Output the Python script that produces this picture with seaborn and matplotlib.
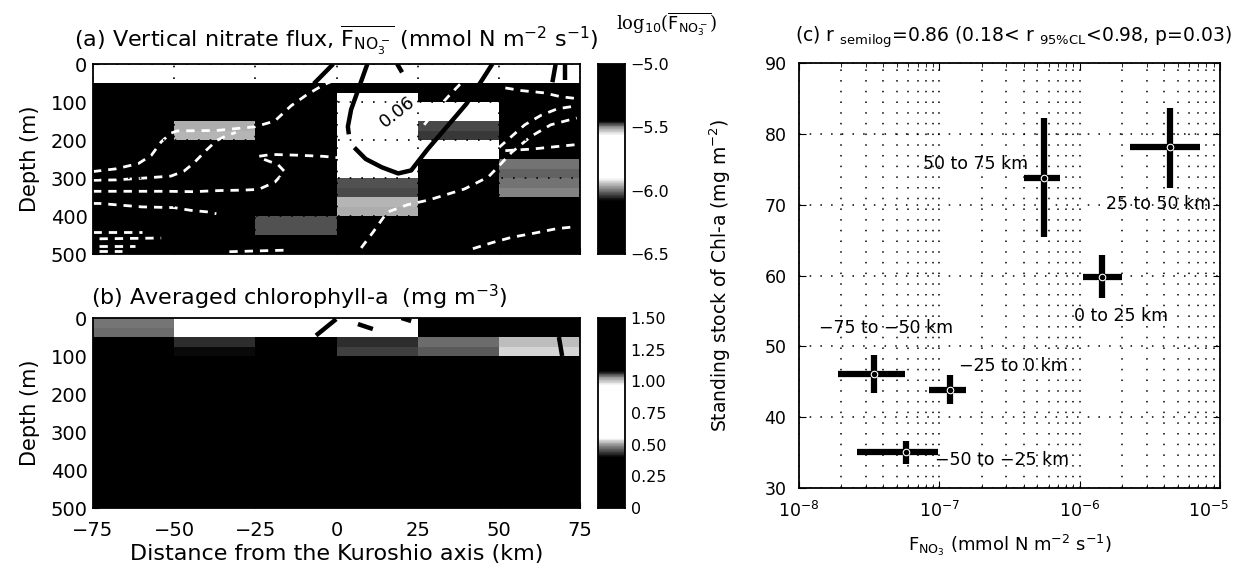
# =========================================
# NITRATE FLUX / CHL-A SECTION + SCATTER
# =========================================

import numpy as np
import pandas as pd
import matplotlib
matplotlib.use("Agg")
import matplotlib.pyplot as plt
import matplotlib.transforms as mtransforms
import seaborn as sns
from matplotlib.colors import LinearSegmentedColormap

# =========================================
# DATA
# =========================================

dist_ticks = [-75, -50, -25, 0, 25, 50, 75]
depth_ticks = [0, 100, 200, 300, 400, 500]
depth_bins = [12.5, 37.5, 62.5, 87.5, 112.5, 137.5, 162.5, 187.5, 212.5, 237.5,
              262.5, 287.5, 312.5, 337.5, 362.5, 387.5, 412.5, 437.5, 462.5, 487.5]

# log10 of vertical nitrate flux, one list per 25 km column (0-500 m, 25 m bins)
flux_m75 = [-5.72, -5.74, -6.21, -6.25, -6.28, -6.30, -6.26, -6.24, -6.22, -6.25,
            -6.27, -6.30, -6.33, -6.35, -6.38, -6.40, -6.42, -6.44, -6.45, -6.47]
flux_m50 = [-5.70, -5.73, -6.18, -6.20, -6.15, -6.12, -5.96, -5.95, -6.14, -6.20,
            -6.24, -6.27, -6.30, -6.33, -6.36, -6.38, -6.40, -6.42, -6.44, -6.46]
flux_m25 = [-5.68, -5.72, -6.15, -6.18, -6.20, -6.22, -6.20, -6.18, -6.16, -6.15,
            -6.15, -6.17, -6.19, -6.21, -6.18, -6.15, -6.02, -6.02, -6.20, -6.30]
flux_p00 = [-5.65, -5.68, -5.30, -5.75, -5.72, -5.70, -5.68, -5.66, -5.70, -5.74,
            -5.78, -5.84, -6.02, -6.03, -5.95, -5.96, -6.15, -6.20, -6.25, -6.30]
flux_p25 = [-5.62, -5.66, -5.25, -5.28, -5.70, -5.72, -6.03, -6.04, -5.75, -5.80,
            -6.12, -6.15, -6.18, -6.20, -6.22, -6.24, -6.26, -6.28, -6.30, -6.32]
flux_p50 = [-5.65, -5.70, -6.12, -6.14, -6.15, -6.16, -6.15, -6.14, -6.12, -6.10,
            -6.00, -6.01, -6.00, -5.99, -6.12, -6.16, -6.20, -6.24, -6.28, -6.30]

# averaged chlorophyll-a (mg m-3)
chl_m75 = [0.48, 0.47, 0.32, 0.28, 0.24, 0.21, 0.18, 0.16, 0.14, 0.12,
           0.11, 0.10, 0.09, 0.08, 0.08, 0.07, 0.07, 0.06, 0.06, 0.05]
chl_m50 = [0.80, 0.78, 0.43, 0.41, 0.30, 0.24, 0.20, 0.17, 0.15, 0.13,
           0.12, 0.10, 0.09, 0.09, 0.08, 0.07, 0.07, 0.06, 0.06, 0.05]
chl_m25 = [0.75, 0.72, 0.38, 0.32, 0.26, 0.22, 0.19, 0.16, 0.14, 0.12,
           0.11, 0.10, 0.09, 0.08, 0.08, 0.07, 0.07, 0.06, 0.06, 0.05]
chl_p00 = [0.62, 0.60, 0.43, 0.44, 0.30, 0.25, 0.21, 0.18, 0.15, 0.13,
           0.12, 0.10, 0.09, 0.08, 0.08, 0.07, 0.07, 0.06, 0.06, 0.05]
chl_p25 = [0.22, 0.26, 0.47, 0.46, 0.30, 0.25, 0.21, 0.18, 0.15, 0.13,
           0.12, 0.10, 0.09, 0.08, 0.08, 0.07, 0.07, 0.06, 0.06, 0.05]
chl_p50 = [0.20, 0.24, 0.52, 0.53, 0.32, 0.26, 0.22, 0.18, 0.15, 0.13,
           0.12, 0.10, 0.09, 0.08, 0.08, 0.07, 0.07, 0.06, 0.06, 0.05]

col_names = ["-75", "-50", "-25", "0", "25", "50"]

# white dashed contours of panel (a): (distance km, depth m)
dash_lines = [
    ([-75, -68, -61, -57, -54, -51, -49, -37, -25, -19, -14, -9, -4, 0],
     [283, 276, 262, 240, 205, 182, 176, 175, 165, 150, 110, 80, 55, 40]),
    ([-75, -68, -59, -51, -47, -44, -40, -37, -34, -31],
     [306, 305, 300, 295, 282, 261, 226, 202, 189, 180]),
    ([-75, -62, -52, -44, -36, -29, -24, -19, -16, -18, -22, -24, -20, -12, -4, 1],
     [335, 335, 335, 336, 333, 332, 330, 311, 283, 265, 252, 243, 238, 240, 243, 247]),
    ([-75, -73, -60, -50, -45, -40, -37],
     [367, 367, 376, 378, 385, 389, 394]),
    ([-75, -60], [442, 442]),
    ([-73, -54], [460, 458]),
    ([-73, -62], [478, 478]),
    ([-73, -66], [492, 492]),
    ([-33, -25, -16], [494, 492, 490]),
    ([7.6, 11.3, 15.6, 22, 28.4, 39.4, 46.8, 50.5, 54, 60, 66, 74],
     [484, 442, 390, 370, 358, 329, 297, 264, 232, 190, 160, 142]),
    ([27, 31, 35, 39, 43], [160, 118, 80, 45, 10]),
    ([52, 57, 64, 69, 74], [63, 70, 76, 86, 91]),
    ([50, 54, 58, 63, 68, 74], [220, 190, 160, 135, 118, 110]),
    ([52, 60, 67, 74], [228, 224, 218, 212]),
    ([42, 48, 54, 61, 68, 74], [486, 470, 456, 445, 433, 428]),
]

# black solid contours of panel (a)
solid_lines_a = [
    ([-1, -4, -7], [0, 26, 52]),
    ([9.5, 7, 4.5, 3.5, 3.8], [0, 60, 120, 165, 185]),
    ([5.5, 9, 14, 19, 23, 28, 34, 40, 45, 48], [220, 250, 272, 288, 280, 225, 165, 105, 40, 0]),
    ([18.7, 20.2], [0, 22]),
    ([67.5, 66.5], [0, 48]),
    ([70.5, 70.5], [0, 42]),
]

# black solid contours of panel (b)
solid_lines_b = [
    ([-0.1, -6.3], [3, 46]),
    ([6.6, 11.2], [16, 29]),
    ([20, 23], [0, 8]),
    ([68.5, 69.5], [50, 100]),
]

# panel (c): flux vs standing stock with ranges
region = ["50 to 75 km", "25 to 50 km", "0 to 25 km",
          "\u221275 to \u221250 km", "\u221225 to 0 km", "\u221250 to \u221225 km"]
flux_mid = [5.6e-7, 4.4e-6, 1.44e-6, 3.4e-8, 1.2e-7, 5.8e-8]
flux_lo = [4.0e-7, 2.3e-6, 1.06e-6, 1.9e-8, 8.4e-8, 2.6e-8]
flux_hi = [7.3e-7, 7.2e-6, 2.0e-6, 5.7e-8, 1.56e-7, 9.8e-8]
chl_mid = [73.7, 78.1, 59.8, 46.1, 43.9, 35.1]
chl_lo = [65.4, 72.4, 56.8, 43.4, 41.9, 33.4]
chl_hi = [82.2, 83.6, 62.9, 48.8, 46.0, 36.6]

# where each region label sits (x, y, alignment)
label_x = [4.27e-7, 1.55e-6, 9.1e-7, 1.38e-8, 1.38e-7, 9.3e-8]
label_y = [75.8, 70.1, 54.3, 52.6, 47.2, 34.0]
label_ha = ["right", "left", "left", "left", "left", "left"]

# =========================================
# STYLE
# =========================================

sns.set_style("ticks")
plt.rcParams["font.family"] = ["DejaVu Sans"]
plt.rcParams["mathtext.fontset"] = "dejavusans"
plt.rcParams["axes.linewidth"] = 1.3
for key in ["text.color", "axes.labelcolor", "xtick.color", "ytick.color", "axes.edgecolor"]:
    plt.rcParams[key] = "black"

# scanned black / white look of the original colour scales
nodes_a = [(-6.5, 0), (-6.08, 0), (-6.0, 0.45), (-5.9, 1), (-5.56, 1),
           (-5.5, 0.6), (-5.45, 0), (-5.0, 0)]
cmap_a = LinearSegmentedColormap.from_list(
    "flux", [((v + 6.5) / 1.5, (g, g, g)) for v, g in nodes_a])

nodes_b = [(0, 0), (0.40, 0), (0.5, 0.6), (0.55, 1), (0.97, 1),
           (1.03, 0.6), (1.08, 0), (1.5, 0)]
cmap_b = LinearSegmentedColormap.from_list(
    "chl", [(v / 1.5, (g, g, g)) for v, g in nodes_b])

flux_df = pd.DataFrame(
    dict(zip(col_names, [flux_m75, flux_m50, flux_m25, flux_p00, flux_p25, flux_p50])),
    index=depth_bins)
chl_df = pd.DataFrame(
    dict(zip(col_names, [chl_m75, chl_m50, chl_m25, chl_p00, chl_p25, chl_p50])),
    index=depth_bins)


def to_cell(km, dep):
    # heatmap cells are 25 km wide and 25 m tall
    return (np.asarray(km) + 75) / 25, np.asarray(dep) / 25


fig = plt.figure(figsize=(12.4, 5.75), dpi=100)

ax_a = fig.add_axes([93 / 1240, 1 - 254 / 575, 487 / 1240, 190 / 575])
cax_a = fig.add_axes([598 / 1240, 1 - 254 / 575, 27 / 1240, 190 / 575])
ax_b = fig.add_axes([93 / 1240, 1 - 508 / 575, 487 / 1240, 190 / 575])
cax_b = fig.add_axes([598 / 1240, 1 - 508 / 575, 27 / 1240, 190 / 575])
ax_c = fig.add_axes([799 / 1240, 1 - 488 / 575, 421 / 1240, 425 / 575])

# =========================================
# PANEL (a)
# =========================================

sns.heatmap(flux_df, ax=ax_a, cmap=cmap_a, vmin=-6.5, vmax=-5.0,
            cbar_ax=cax_a, xticklabels=False, yticklabels=False,
            cbar_kws={"ticks": [-6.5, -6.0, -5.5, -5.0]})

for xs, ds in dash_lines:
    cx, cy = to_cell(xs, ds)
    ax_a.plot(cx, cy, color="white", lw=2.0, ls=(0, (3, 2.5)))

for xs, ds in solid_lines_a:
    cx, cy = to_cell(xs, ds)
    ax_a.plot(cx, cy, color="black", lw=3.2, solid_capstyle="butt")

lx, ly = to_cell(18.7, 125)
ax_a.text(lx, ly, "0.06", rotation=38, fontsize=13, ha="center", va="center")

ax_a.grid(True, color="black", ls=(0, (1, 6)), lw=1.2)
ax_a.set_axisbelow(False)
ax_a.set_title(r"(a) Vertical nitrate flux, $\overline{\mathrm{F}_{\mathrm{NO}_3^-}}$"
               r" (mmol N m$^{-2}$ s$^{-1}$)", fontsize=16, pad=12)

cax_a.set_yticklabels(["\u22126.5", "\u22126.0", "\u22125.5", "\u22125.0"])
fig.text(616 / 1240, 1 - 30 / 575, r"log$_{10}$($\overline{\mathrm{F}_{\mathrm{NO}_3^-}}$)",
         fontsize=13, ha="left", va="baseline", family="DejaVu Serif")

# =========================================
# PANEL (b)
# =========================================

sns.heatmap(chl_df, ax=ax_b, cmap=cmap_b, vmin=0, vmax=1.5,
            cbar_ax=cax_b, xticklabels=False, yticklabels=False,
            cbar_kws={"ticks": [0, 0.25, 0.5, 0.75, 1.0, 1.25, 1.5]})

for xs, ds in solid_lines_b:
    cx, cy = to_cell(xs, ds)
    ax_b.plot(cx, cy, color="black", lw=3.2, solid_capstyle="butt")

cax_b.set_yticklabels(["0", "0.25", "0.50", "0.75", "1.00", "1.25", "1.50"])
ax_b.set_title(r"(b) Averaged chlorophyll-a  (mg m$^{-3}$)", fontsize=16,
               loc="left", pad=9, x=-0.005)
ax_b.set_xlabel("Distance from the Kuroshio axis (km)", fontsize=16, labelpad=3)

# shared axis cosmetics for the two sections
for ax in (ax_a, ax_b):
    for spine in ax.spines.values():
        spine.set_visible(True)
        spine.set_color("black")
    ax.set_xticks(np.arange(len(dist_ticks)))
    ax.set_yticks(np.array(depth_ticks) / 25)
    ax.set_yticklabels([str(d) for d in depth_ticks], rotation=0, fontsize=14)
    ax.set_ylabel("Depth (m)", fontsize=15)
    ax.yaxis.set_label_coords(-0.108, 0.5)
    ax.tick_params(direction="in", length=4, pad=4)

ax_a.set_xticklabels([])
ax_b.set_xticklabels(["\u221275", "\u221250", "\u221225", "0", "25", "50", "75"],
                     rotation=0, fontsize=14)
ax_b.tick_params(axis="x", pad=9)

for cax in (cax_a, cax_b):
    cax.tick_params(labelsize=11.5, length=0, pad=4)
    for spine in cax.spines.values():
        spine.set_visible(True)
        spine.set_color("black")

# =========================================
# PANEL (c)
# =========================================

ax_c.set_xscale("log")
ax_c.errorbar(
    flux_mid, chl_mid,
    xerr=[np.array(flux_mid) - np.array(flux_lo), np.array(flux_hi) - np.array(flux_mid)],
    yerr=[np.array(chl_mid) - np.array(chl_lo), np.array(chl_hi) - np.array(chl_mid)],
    fmt="none", ecolor="black", elinewidth=4.5, capsize=0, zorder=3)

sns.scatterplot(x=flux_mid, y=chl_mid, ax=ax_c, color="black", marker="o",
                s=22, edgecolor="white", linewidth=0.8, zorder=4, legend=False)

for name, tx, ty, ha in zip(region, label_x, label_y, label_ha):
    ax_c.text(tx, ty, name, fontsize=12.5, ha=ha, va="center")

ax_c.set_xlim(1e-8, 1e-5)
ax_c.set_ylim(30, 90)
ax_c.set_yticks([30, 40, 50, 60, 70, 80, 90])
ax_c.set_xticks([1e-8, 1e-7, 1e-6, 1e-5])
ax_c.set_xticklabels([r"10$^{-8}$", r"10$^{-7}$", r"10$^{-6}$", r"10$^{-5}$"])
ax_c.tick_params(which="both", direction="in", top=True, right=True, labelsize=12.5)
ax_c.tick_params(which="major", length=5, pad=9)
ax_c.tick_params(which="minor", length=3)
ax_c.grid(True, which="major", color="black", ls=(0, (1, 6)), lw=1.1)
ax_c.grid(True, which="minor", axis="x", color="black", ls=(0, (1, 6)), lw=1.1)

# keep the last decade label inside the picture
last = ax_c.get_xticklabels()[-1]
last.set_transform(last.get_transform() + mtransforms.ScaledTranslation(-8 / 72, 0, fig.dpi_scale_trans))

ax_c.set_title(r"(c) r $_{\mathrm{semilog}}$=0.86 (0.18< r $_{\mathrm{95\%CL}}$<0.98, p=0.03)",
               fontsize=13.5, loc="left", pad=15, x=-0.01)
ax_c.set_ylabel(r"Standing stock of Chl-a (mg m$^{-2}$)", fontsize=13.5)
ax_c.yaxis.set_label_coords(-0.157, 0.5)
ax_c.set_xlabel(r"F$_{\mathrm{NO}_{3}}$ (mmol N m$^{-2}$ s$^{-1}$)", fontsize=13, labelpad=9)

plt.savefig("out.png", dpi=100)
plt.close()
